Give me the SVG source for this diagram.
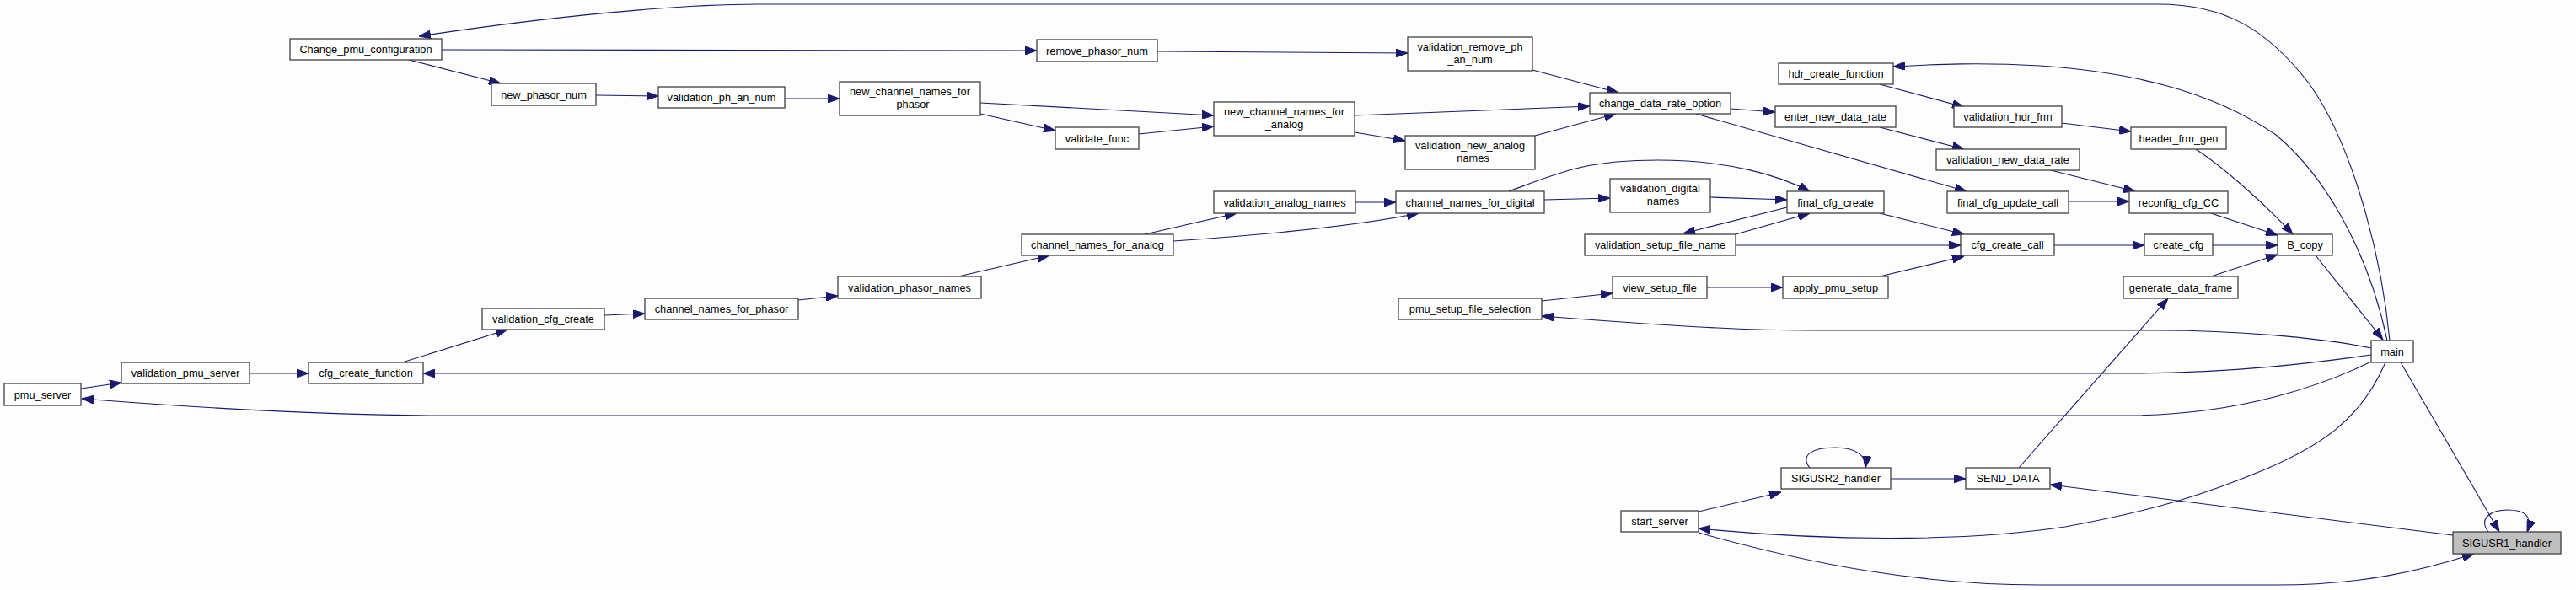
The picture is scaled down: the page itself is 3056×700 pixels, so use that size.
<svg xmlns="http://www.w3.org/2000/svg" width="3056" height="700" viewBox="0 0 3056 700">
<defs>
<style>
.n rect{fill:#ffffff;stroke:#404040;stroke-width:1.3}
.n.f rect{fill:#bfbfbf}
.n text{font-family:"Liberation Sans",Arial,sans-serif;font-size:12.8px;fill:#000;text-anchor:middle}
.e path{fill:none;stroke:#191970;stroke-width:1.1;marker-end:url(#ah)}
</style>
<marker id="ah" markerUnits="userSpaceOnUse" markerWidth="14" markerHeight="10" viewBox="0 0 14 10" refX="14" refY="5" orient="auto">
<path d="M0,0 L14,5 L0,10 z" fill="#191970" stroke="#191970" stroke-width="1"/>
</marker>
</defs>
<rect x="0" y="0" width="3056" height="700" fill="#fcfdfc"/>
<g id="edges" class="e">
<path d="M2835,404 C2825,300 2790,170 2740,100 C2690,35 2640,5 2560,5 L900,5 C800,5 650,20 497,43"/>
<path d="M2832,404 C2810,300 2760,210 2700,160 C2620,105 2520,85 2420,78 C2350,74 2300,76 2246,79"/>
<path d="M2747,303 L2827,403"/>
<path d="M2813,413 C2750,400 2650,392 2560,392 L2150,392 C2050,392 1950,384 1829,375"/>
<path d="M2813,421 C2750,430 2650,443 2520,443 L502,443"/>
<path d="M2813,429 C2760,455 2660,493 2520,493 L520,493 C400,493 250,485 97,473"/>
<path d="M2830,430 C2800,500 2750,530 2687,557 C2620,585 2560,605 2450,625 C2350,640 2200,645 2015,627"/>
<path d="M2848,430 L2965,631"/>
<path d="M2952,631 C2940,615 2955,605 2975,605 C2995,605 3005,612 2998,631"/>
<path d="M2015,632 C2150,670 2280,694 2420,694 L2700,694 C2800,694 2870,678 2935,657"/>
<path d="M2910,635 L2432,575"/>
<path d="M2147,555 C2135,540 2150,531 2177,531 C2200,531 2215,540 2213,555"/>
<path d="M2243,568 L2332,568"/>
<path d="M2015,607 L2113,584"/>
<path d="M2395,555 L2572,354"/>
<path d="M2605,177 C2640,200 2690,245 2720,278"/>
<path d="M2623,253 L2702,279"/>
<path d="M2625,291 L2702,291"/>
<path d="M2623,328 L2702,302"/>
<path d="M2230,100 L2330,127"/>
<path d="M2446,146 L2528,156"/>
<path d="M2053,129 L2106,133"/>
<path d="M2012,135 L2333,227"/>
<path d="M2230,151 L2330,177"/>
<path d="M2433,202 L2533,227"/>
<path d="M2454,239 L2526,239"/>
<path d="M1790,227 C1850,205 1880,190 1967,190 C2050,190 2110,208 2147,227"/>
<path d="M2029,234 L2120,237"/>
<path d="M2120,246 L1997,277"/>
<path d="M2059,278 L2147,253"/>
<path d="M2230,253 L2330,278"/>
<path d="M2059,291 L2326,291"/>
<path d="M2025,341 L2115,341"/>
<path d="M2230,328 L2330,304"/>
<path d="M2437,291 L2544,291"/>
<path d="M1373,61 L1670,63"/>
<path d="M1818,83 L1920,110"/>
<path d="M1607,137 L1886,126"/>
<path d="M1607,157 L1667,167"/>
<path d="M1821,161 L1917,135"/>
<path d="M1608,240 L1656,240"/>
<path d="M1392,286 C1480,280 1600,270 1683,253"/>
<path d="M1832,237 L1910,235"/>
<path d="M1829,357 L1913,348"/>
<path d="M524,59 L1230,60"/>
<path d="M1163,122 L1440,137"/>
<path d="M1163,135 L1252,155"/>
<path d="M1351,159 L1440,150"/>
<path d="M1358,278 L1467,253"/>
<path d="M1137,328 L1245,303"/>
<path d="M707,113 L781,114"/>
<path d="M931,117 L996,117"/>
<path d="M485,71 L594,99"/>
<path d="M96,461 L144,454"/>
<path d="M296,443 L366,443"/>
<path d="M477,430 L602,391"/>
<path d="M717,374 L765,372"/>
<path d="M947,356 L994,351"/>
</g>
<g id="Change_pmu_configuration" class="n"><rect x="344" y="46" width="180" height="25"/><text x="434" y="63">Change_pmu_configuration</text></g>
<g id="new_phasor_num" class="n"><rect x="583" y="99" width="124" height="26"/><text x="645" y="116.6">new_phasor_num</text></g>
<g id="validation_ph_an_num" class="n"><rect x="781" y="103" width="150" height="25"/><text x="856" y="120">validation_ph_an_num</text></g>
<g id="remove_phasor_num" class="n"><rect x="1230" y="47" width="143" height="26"/><text x="1301.5" y="64.6">remove_phasor_num</text></g>
<g id="new_channel_names_for_phasor" class="n"><rect x="996" y="97" width="167" height="40"/><text x="1079.5" y="113">new_channel_names_for</text><text x="1079.5" y="128">_phasor</text></g>
<g id="validate_func" class="n"><rect x="1252" y="151" width="99" height="26"/><text x="1301.5" y="168.6">validate_func</text></g>
<g id="new_channel_names_for_analog" class="n"><rect x="1440" y="121" width="167" height="40"/><text x="1523.5" y="137">new_channel_names_for</text><text x="1523.5" y="152">_analog</text></g>
<g id="validation_analog_names" class="n"><rect x="1440" y="227" width="168" height="26"/><text x="1524" y="244.6">validation_analog_names</text></g>
<g id="channel_names_for_analog" class="n"><rect x="1212" y="278" width="180" height="25"/><text x="1302" y="295">channel_names_for_analog</text></g>
<g id="validation_phasor_names" class="n"><rect x="994" y="328" width="170" height="26"/><text x="1079" y="345.6">validation_phasor_names</text></g>
<g id="validation_remove_ph_an_num" class="n"><rect x="1670" y="44" width="148" height="40"/><text x="1744" y="60">validation_remove_ph</text><text x="1744" y="75">_an_num</text></g>
<g id="change_data_rate_option" class="n"><rect x="1886" y="110" width="167" height="25"/><text x="1969.5" y="127">change_data_rate_option</text></g>
<g id="validation_new_analog_names" class="n"><rect x="1667" y="161" width="154" height="40"/><text x="1744" y="177">validation_new_analog</text><text x="1744" y="192">_names</text></g>
<g id="channel_names_for_digital" class="n"><rect x="1656" y="227" width="176" height="26"/><text x="1744" y="244.6">channel_names_for_digital</text></g>
<g id="validation_digital_names" class="n"><rect x="1910" y="212" width="119" height="40"/><text x="1969.5" y="228">validation_digital</text><text x="1969.5" y="243">_names</text></g>
<g id="validation_setup_file_name" class="n"><rect x="1880" y="278" width="179" height="25"/><text x="1969.5" y="295">validation_setup_file_name</text></g>
<g id="view_setup_file" class="n"><rect x="1913" y="328" width="112" height="26"/><text x="1969" y="345.6">view_setup_file</text></g>
<g id="hdr_create_function" class="n"><rect x="2110" y="75" width="136" height="25"/><text x="2178" y="92">hdr_create_function</text></g>
<g id="enter_new_data_rate" class="n"><rect x="2106" y="126" width="143" height="25"/><text x="2177.5" y="143">enter_new_data_rate</text></g>
<g id="validation_hdr_frm" class="n"><rect x="2318" y="126" width="128" height="25"/><text x="2382" y="143">validation_hdr_frm</text></g>
<g id="validation_new_data_rate" class="n"><rect x="2297" y="177" width="170" height="25"/><text x="2382" y="194">validation_new_data_rate</text></g>
<g id="final_cfg_create" class="n"><rect x="2120" y="227" width="115" height="26"/><text x="2177.5" y="244.6">final_cfg_create</text></g>
<g id="final_cfg_update_call" class="n"><rect x="2310" y="227" width="144" height="26"/><text x="2382" y="244.6">final_cfg_update_call</text></g>
<g id="cfg_create_call" class="n"><rect x="2326" y="278" width="111" height="25"/><text x="2381.5" y="295">cfg_create_call</text></g>
<g id="apply_pmu_setup" class="n"><rect x="2115" y="328" width="125" height="26"/><text x="2177.5" y="345.6">apply_pmu_setup</text></g>
<g id="header_frm_gen" class="n"><rect x="2528" y="151" width="113" height="26"/><text x="2584.5" y="168.6">header_frm_gen</text></g>
<g id="reconfig_cfg_CC" class="n"><rect x="2526" y="227" width="117" height="26"/><text x="2584.5" y="244.6">reconfig_cfg_CC</text></g>
<g id="create_cfg" class="n"><rect x="2544" y="278" width="81" height="25"/><text x="2584.5" y="295">create_cfg</text></g>
<g id="B_copy" class="n"><rect x="2702" y="278" width="65" height="25"/><text x="2734.5" y="295">B_copy</text></g>
<g id="generate_data_frame" class="n"><rect x="2519" y="328" width="136" height="26"/><text x="2587" y="345.6">generate_data_frame</text></g>
<g id="pmu_server" class="n"><rect x="5" y="455" width="91" height="26"/><text x="50.5" y="472.6">pmu_server</text></g>
<g id="validation_pmu_server" class="n"><rect x="144" y="430" width="152" height="25"/><text x="220" y="447">validation_pmu_server</text></g>
<g id="cfg_create_function" class="n"><rect x="366" y="430" width="136" height="25"/><text x="434" y="447">cfg_create_function</text></g>
<g id="validation_cfg_create" class="n"><rect x="572" y="366" width="145" height="25"/><text x="644.5" y="383">validation_cfg_create</text></g>
<g id="channel_names_for_phasor" class="n"><rect x="765" y="354" width="182" height="25"/><text x="856" y="371">channel_names_for_phasor</text></g>
<g id="pmu_setup_file_selection" class="n"><rect x="1659" y="354" width="170" height="25"/><text x="1744" y="371">pmu_setup_file_selection</text></g>
<g id="start_server" class="n"><rect x="1923" y="606" width="92" height="25"/><text x="1969" y="623">start_server</text></g>
<g id="SIGUSR2_handler" class="n"><rect x="2113" y="555" width="130" height="25"/><text x="2178" y="572">SIGUSR2_handler</text></g>
<g id="SEND_DATA" class="n"><rect x="2332" y="555" width="100" height="25"/><text x="2382" y="572">SEND_DATA</text></g>
<g id="main" class="n"><rect x="2813" y="404" width="50" height="26"/><text x="2838" y="421.6">main</text></g>
<g id="SIGUSR1_handler" class="n f"><rect x="2910" y="631" width="128" height="26"/><text x="2974" y="648.6">SIGUSR1_handler</text></g>
</svg>
